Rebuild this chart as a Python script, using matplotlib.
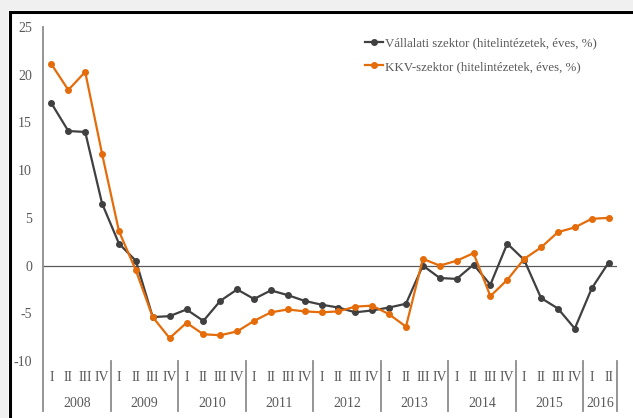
# Vállalati és KKV-szektor hitelezés, negyedéves adatok
import numpy as np
import matplotlib.pyplot as plt
from matplotlib.patches import Rectangle
from matplotlib.lines import Line2D

# Data
years = ['2008', '2009', '2010', '2011', '2012', '2013', '2014', '2015', '2016']
quarters_per_year = [4, 4, 4, 4, 4, 4, 4, 4, 2]
roman = ['I', 'II', 'III', 'IV']

vallalati = [17.0, 14.1, 14.0, 6.5,
             2.3, 0.5, -5.4, -5.3,
             -4.6, -5.8, -3.7, -2.5,
             -3.5, -2.6, -3.1, -3.7,
             -4.1, -4.4, -4.9, -4.7,
             -4.4, -4.0, 0.0, -1.3,
             -1.4, 0.1, -2.0, 2.3,
             0.6, -3.4, -4.5, -6.6,
             -2.4, 0.3]
kkv = [21.1, 18.4, 20.3, 11.7,
       3.6, -0.5, -5.4, -7.6,
       -6.0, -7.2, -7.3, -6.9,
       -5.8, -4.9, -4.6, -4.8,
       -4.9, -4.8, -4.3, -4.2,
       -5.1, -6.4, 0.7, 0.0,
       0.5, 1.3, -3.2, -1.5,
       0.7, 1.9, 3.5, 4.0,
       4.9, 5.0]

label_v = 'Vállalati szektor (hitelintézetek, éves, %)'
label_k = 'KKV-szektor (hitelintézetek, éves, %)'

# Style
plt.rcParams['font.family'] = ['Liberation Serif', 'DejaVu Serif']
plt.rcParams['axes.unicode_minus'] = False
txt = '#595959'
axcol = '#8c8c8c'
dark = '#404040'
orange = '#e46c0a'

fig = plt.figure(figsize=(6.33, 4.18), dpi=100)
fig.patch.set_facecolor('white')

# gray frame around the picture (top and left) with black edge
fig.patches.append(Rectangle((0, 1 - 10 / 418), 1, 10 / 418, transform=fig.transFigure,
                             facecolor='#f0f0f0', edgecolor='none', zorder=0))
fig.patches.append(Rectangle((0, 0), 8 / 633, 1, transform=fig.transFigure,
                             facecolor='#f0f0f0', edgecolor='none', zorder=0))
fig.lines.append(Line2D([9.5 / 633, 1], [1 - 11.5 / 418] * 2, transform=fig.transFigure,
                        color='black', lw=2.2))
fig.lines.append(Line2D([9.5 / 633] * 2, [0, 1 - 11.5 / 418], transform=fig.transFigure,
                        color='black', lw=2.2))

ax = fig.add_axes([43 / 633, 1 - 361 / 418, 574 / 633, 334 / 418])
x = np.arange(len(vallalati))

ax.axhline(0, color='#595959', lw=0.9, zorder=1)
ax.plot(x, vallalati, color=dark, lw=1.6, marker='o', ms=4, label=label_v, zorder=3)
ax.plot(x, kkv, color=orange, lw=1.6, marker='o', ms=4, label=label_k, zorder=4)

ax.set_xlim(-0.5, len(x) - 0.5)
ax.set_ylim(-10, 25)
ax.set_yticks(np.arange(-10, 26, 5))
ax.tick_params(axis='y', length=0, labelsize=10, colors=txt, pad=8)
ax.set_xticks([])
for s in ['top', 'right', 'bottom', 'left']:
    ax.spines[s].set_visible(False)

# left axis line extended below the plot
trans = ax.get_xaxis_transform()
ax.plot([-0.5, -0.5], [1, -0.15], transform=trans, color=axcol, lw=1.3, clip_on=False)

# quarter and year labels with separators
pos = 0
for yr, n in zip(years, quarters_per_year):
    for q in range(n):
        ax.text(pos + q, -0.048, roman[q], transform=trans, ha='center', va='center',
                fontsize=10, color=txt)
    ax.text(pos + (n - 1) / 2, -0.126, yr, transform=trans, ha='center', va='center',
            fontsize=10, color=txt)
    pos += n
    ax.plot([pos - 0.5, pos - 0.5], [0, -0.15], transform=trans, color=axcol, lw=1.3,
            clip_on=False)

leg = ax.legend(loc='upper left', bbox_to_anchor=(0.552, 0.985), frameon=False,
                fontsize=9.3, handlelength=1.4, handletextpad=0.15, labelspacing=0.9,
                borderaxespad=0)
for t in leg.get_texts():
    t.set_color(txt)

fig.savefig('out.png', dpi=100)
